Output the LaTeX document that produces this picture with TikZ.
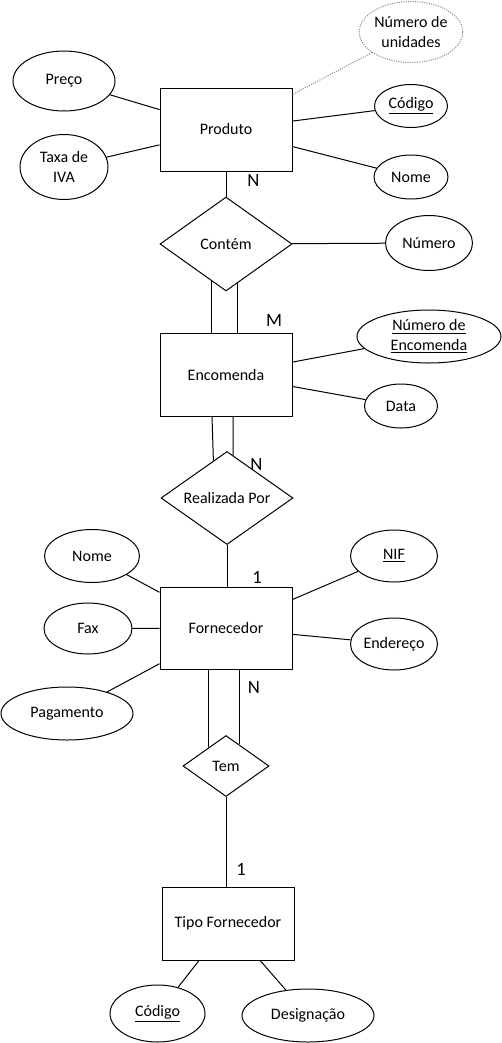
\documentclass[tikz,border=0pt]{standalone}
\usepackage{fontspec}
\setmainfont{Carlito}
\usetikzlibrary{shapes.geometric,calc,positioning}

\def\px{0.75pt}

\tikzset{
  entity/.style={draw, rectangle, inner sep=0pt, minimum width=132*\px, minimum height=#1*\px},
  attrib/.style 2 args={draw, ellipse, inner sep=0pt, align=center, minimum width=#1*\px, minimum height=#2*\px},
  relation/.style 2 args={draw, diamond, inner sep=0pt, aspect=1.4, minimum width=#1*\px, minimum height=#2*\px},
  card/.style={inner sep=0pt, font=\fontsize{14}{16}\selectfont},
  derived/.style={draw=gray, densely dotted}
}

\begin{document}
\begin{tikzpicture}[x=\px, y=-\px, line width=0.75pt, font=\fontsize{12}{14.6}\selectfont]

\useasboundingbox (0,0) rectangle (502,1043);

%Entities
\node [entity=83] (produto) at (226,129.5) {Produto};
\node [entity=83] (encomenda) at (226,374.5) {Encomenda};
\node [entity=82] (fornecedor) at (226,628) {Fornecedor};
\node [entity=73] (tipo) at (228,923.5) {Tipo Fornecedor};

%Relationships
\node [relation={132}{94}] (contem) at (226,244) {Contém};
\node [relation={132}{93}] (realizada) at (227,498) {Realizada Por};
\node [relation={86}{61}] (tem) at (226,766) {Tem};

%Attributes of Produto
\node [attrib={102}{61}, derived] (unidades) at (411,32) {Número de\\unidades};
\node [attrib={102}{60}] (preco) at (64,81) {Preço};
\node [attrib={88}{65}] (iva) at (64,167) {Taxa de\\IVA};
\node [attrib={73}{43}] (codigoP) at (411,106) {\underline{Código}};
\node [attrib={74}{44}] (nomeP) at (411,177) {Nome};

%Attribute of Contem
\node [attrib={87}{55}] (numero) at (429,243) {Número};

%Attributes of Encomenda
\node [attrib={144}{53}] (numenc) at (429,336.5) {\underline{Número de}\\\underline{Encomenda}};
\node [attrib={73}{44}] (data) at (401,406) {Data};

%Attributes of Fornecedor
\node [attrib={95}{53}] (nomeF) at (92,556) {Nome};
\node [attrib={88}{51}] (fax) at (88,628.5) {Fax};
\node [attrib={132}{53}] (pagamento) at (67,713.5) {Pagamento};
\node [attrib={87}{52}] (nif) at (394,556) {\underline{NIF}};
\node [attrib={87}{52}] (endereco) at (394,644) {Endereço};

%Attributes of Tipo Fornecedor
\node [attrib={95}{57}] (codigoT) at (157.5,1013.5) {\underline{Código}};
\node [attrib={132}{53}] (designacao) at (308,1015.5) {Designação};

%Cardinalities
\node [card] (cardN1) at (253.5,181) {N};
\node [card] (cardM) at (274,321) {M};
\node [card] (cardN2) at (256.5,465) {N};
\node [card] (cardA) at (257,577) {1};
\node [card] (cardN3) at (254,688) {N};
\node [card] (cardB) at (241,869) {1};

%Attribute links
\draw [derived] (unidades) -- (produto);
\foreach \a in {preco,iva,codigoP,nomeP}
  \draw (\a) -- (produto);
\draw (contem) -- (numero);
\foreach \a in {numenc,data}
  \draw (\a) -- (encomenda);
\foreach \a in {nomeF,fax,pagamento,nif,endereco}
  \draw (\a) -- (fornecedor);
\foreach \a in {codigoT,designacao}
  \draw (\a) -- (tipo);

%Relationship links
\draw (produto) -- (contem);
\draw (contem.-111) -- (contem.-111 |- encomenda.north);
\draw (contem.-74) -- (contem.-74 |- encomenda.north);
\draw ([xshift=-14*\px]encomenda.south) -- (realizada.110);
\draw ([xshift=7*\px]encomenda.south) -- (realizada.82);
\draw (realizada) -- (realizada |- fornecedor.north);
\draw (tem.133) -- (tem.133 |- fornecedor.south);
\draw (tem.59) -- (tem.59 |- fornecedor.south);
\draw (tem) -- (tem |- tipo.north);
\end{tikzpicture}
\end{document}
